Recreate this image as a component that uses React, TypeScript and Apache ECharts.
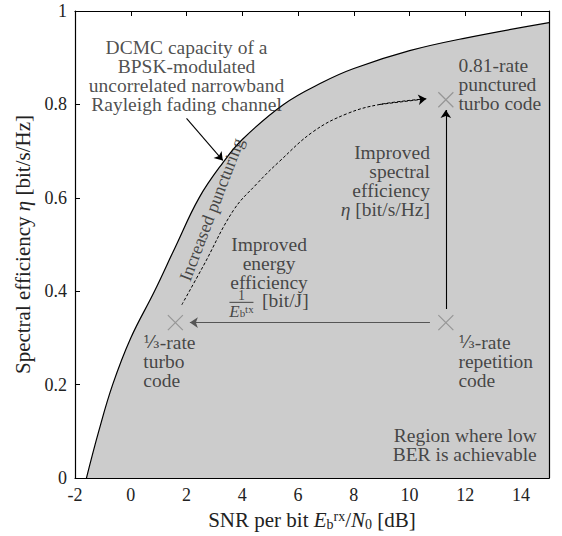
import React, { useEffect, useRef } from 'react';
import * as echarts from 'echarts';

// Capacity curve (DCMC, BPSK, Rayleigh)
const capX = [-1.59, -1.15, -0.65, 0, 0.85, 1.6, 2.45, 3.3, 4, 5.48, 6.9, 8, 10, 12, 15];
const capY = [0, 0.1, 0.2, 0.3, 0.4, 0.495, 0.6, 0.675, 0.725, 0.8, 0.848, 0.877, 0.915, 0.942, 0.975];

// Dashed "increased puncturing" path
const dashX = [1.83, 2.6, 3.68, 4.52, 5.35, 6.55, 7.75, 8.94, 10.6];
const dashY = [0.371, 0.454, 0.573, 0.63, 0.679, 0.742, 0.78, 0.8, 0.812];

// Code operating points
const markX = [1.6, 11.3, 11.3];
const markY = [0.333, 0.333, 0.81];

// Arrows
const arrowFromX = [2.0, 11.3, 10.73];
const arrowFromY = [0.77, 0.362, 0.333];
const arrowToX = [3.3, 11.3, 2.12];
const arrowToY = [0.68, 0.788, 0.333];

// Tick settings
const xTicks = { min: -2, max: 15, interval: 2 };
const yTicks = { min: 0, max: 1, interval: 0.2 };

// Annotation texts
const noteText = [
  'DCMC capacity of a\nBPSK-modulated\nuncorrelated narrowband\nRayleigh fading channel',
  '0.81-rate\npunctured\nturbo code',
  'Improved\nspectral\nefficiency\n{i|η} [bit/s/Hz]',
  'Improved\nenergy\nefficiency',
  '{num|1}\n{bar| }\n{di|E}{dsb|b}{dsp|tx}',
  '[bit/J]',
  '{fr|⅓}-rate\nturbo\ncode',
  '{fr|⅓}-rate\nrepetition\ncode',
  'Region where low\nBER is achievable',
  'Increased puncturing',
];
const noteX = [2.0, 11.75, 10.73, 4.96, 3.97, 4.71, 0.45, 11.75, 14.56, 2.9];
const noteY = [0.861, 0.842, 0.637, 0.459, 0.372, 0.38, 0.25, 0.25, 0.071, 0.575];
const noteAlign = ['center', 'left', 'right', 'center', 'center', 'left', 'left', 'left', 'right', 'center'];
const noteRotate = [0, 0, 0, 0, 0, 0, 0, 0, 0, 69];

const FONT = "'Liberation Serif', 'Times New Roman', 'DejaVu Serif', serif";
const TXT = '#222';

const rich = {
  i: { fontStyle: 'italic', fontFamily: FONT, fontSize: 19.5, color: TXT, lineHeight: 19 },
  di: { fontStyle: 'italic', fontFamily: FONT, fontSize: 17, color: TXT, lineHeight: 15 },
  dsb: { fontStyle: 'normal', fontFamily: FONT, fontSize: 11, color: TXT, verticalAlign: 'bottom', lineHeight: 15 },
  dsp: { fontStyle: 'normal', fontFamily: FONT, fontSize: 11, color: TXT, verticalAlign: 'top', lineHeight: 15 },
  num: { fontStyle: 'normal', fontFamily: FONT, fontSize: 14, color: TXT, lineHeight: 11 },
  bar: { fontSize: 1, lineHeight: 3, width: 24, height: 1, backgroundColor: TXT },
  fr: { fontStyle: 'normal', fontFamily: "'DejaVu Serif', serif", fontSize: 17, color: TXT, lineHeight: 19 },
};

const nameRich = {
  ni: { fontStyle: 'italic', fontFamily: FONT, fontSize: 21, color: TXT, lineHeight: 22 },
  nsb: { fontStyle: 'normal', fontFamily: FONT, fontSize: 14, color: TXT, verticalAlign: 'bottom', lineHeight: 22 },
  nsp: { fontStyle: 'normal', fontFamily: FONT, fontSize: 14, color: TXT, verticalAlign: 'top', lineHeight: 22 },
};

function buildOption() {
  const capData = capX.map((x, i) => [x, capY[i]]);
  const dashData = dashX.map((x, i) => [x, dashY[i]]);
  const n = dashX.length;
  const arrowData: any[] = arrowFromX.map((x, i) => ({
    coords: [[x, arrowFromY[i]], [arrowToX[i], arrowToY[i]]],
    lineStyle: { color: i === 2 ? '#555' : '#000', width: 1.1, opacity: 1 },
  }));
  arrowData.push({
    coords: [[dashX[n - 2], dashY[n - 2]], [dashX[n - 1], dashY[n - 1]]],
    lineStyle: { color: '#000', width: 1, type: [3, 2], opacity: 1 },
  });
  const axisLine = { show: true, onZero: false, lineStyle: { color: '#000', width: 1.2 } };
  const tickInside = { show: true, inside: true, length: 5, lineStyle: { color: '#000', width: 1 } };
  return {
    animation: false,
    backgroundColor: '#fff',
    textStyle: { fontFamily: FONT },
    grid: { left: 75, top: 11, width: 474, height: 474 },
    xAxis: [
      {
        type: 'value', ...xTicks, position: 'bottom', z: 5,
        axisLine, axisTick: { show: false }, splitLine: { show: false },
        axisLabel: { color: TXT, fontSize: 18, fontFamily: FONT, margin: 8, showMaxLabel: false },
        name: 'SNR per bit {ni|E}{nsb|b}{nsp|rx}/{ni|N}{nsb|0} [dB]',
        nameLocation: 'middle', nameGap: 22,
        nameTextStyle: { color: TXT, fontSize: 21, fontFamily: FONT, fontStyle: 'normal', lineHeight: 22, rich: nameRich },
      },
      {
        type: 'value', ...xTicks, position: 'top', z: 5,
        axisLine, axisTick: tickInside, splitLine: { show: false }, axisLabel: { show: false },
      },
    ],
    yAxis: [
      {
        type: 'value', ...yTicks, position: 'left', z: 5,
        axisLine, axisTick: tickInside, splitLine: { show: false },
        axisLabel: { color: TXT, fontSize: 18, fontFamily: FONT, margin: 8 },
        name: 'Spectral efficiency {ni|η} [bit/s/Hz]',
        nameLocation: 'middle', nameRotate: 90, nameGap: 40,
        nameTextStyle: { color: TXT, fontSize: 21, fontFamily: FONT, fontStyle: 'normal', lineHeight: 22, rich: nameRich },
      },
      {
        type: 'value', ...yTicks, position: 'right', z: 5,
        axisLine, axisTick: { show: false }, splitLine: { show: false }, axisLabel: { show: false },
      },
    ],
    series: [
      {
        type: 'line', data: capData, smooth: 0.4, symbol: 'none',
        lineStyle: { color: '#000', width: 1.2 },
        areaStyle: { color: '#cccccc', opacity: 1 },
        z: 2,
      },
      {
        type: 'line', data: dashData, smooth: 0.4, symbol: 'none',
        lineStyle: { color: '#000', width: 1, type: [3, 2] },
        z: 3,
      },
      {
        type: 'lines', coordinateSystem: 'cartesian2d',
        symbol: ['none', 'arrow'], symbolSize: 8,
        lineStyle: { opacity: 1, curveness: 0 },
        data: arrowData, z: 4,
      },
      {
        type: 'scatter',
        data: markX.map((x, i) => [x, markY[i]]),
        symbol: 'path://M0,0L10,10M10,0L0,10', symbolSize: 15,
        itemStyle: { color: 'transparent', borderColor: '#888', borderWidth: 1.2 },
        z: 4,
      },
      {
        type: 'scatter',
        symbol: 'circle', symbolSize: 1,
        itemStyle: { color: 'transparent' },
        silent: true,
        z: 6,
        data: noteText.map((t, i) => ({
          value: [noteX[i], noteY[i]],
          label: {
            show: true, position: 'inside', formatter: t,
            align: noteAlign[i], verticalAlign: 'middle', rotate: noteRotate[i],
            color: TXT, fontFamily: FONT, fontStyle: 'normal',
            fontSize: noteRotate[i] ? 18 : 19.5, lineHeight: noteRotate[i] ? 18 : 19, rich,
          },
        })),
      },
    ],
  };
}

export default function App() {
  const ref = useRef<HTMLDivElement>(null);
  useEffect(() => {
    const chart = echarts.init(ref.current!, null, { renderer: 'svg' });
    chart.setOption(buildOption() as any);
    return () => chart.dispose();
  }, []);
  return (
    <div
      ref={ref}
      style={{ position: 'fixed', left: 0, top: 0, width: 562, height: 536, background: '#fff' }}
    />
  );
}
